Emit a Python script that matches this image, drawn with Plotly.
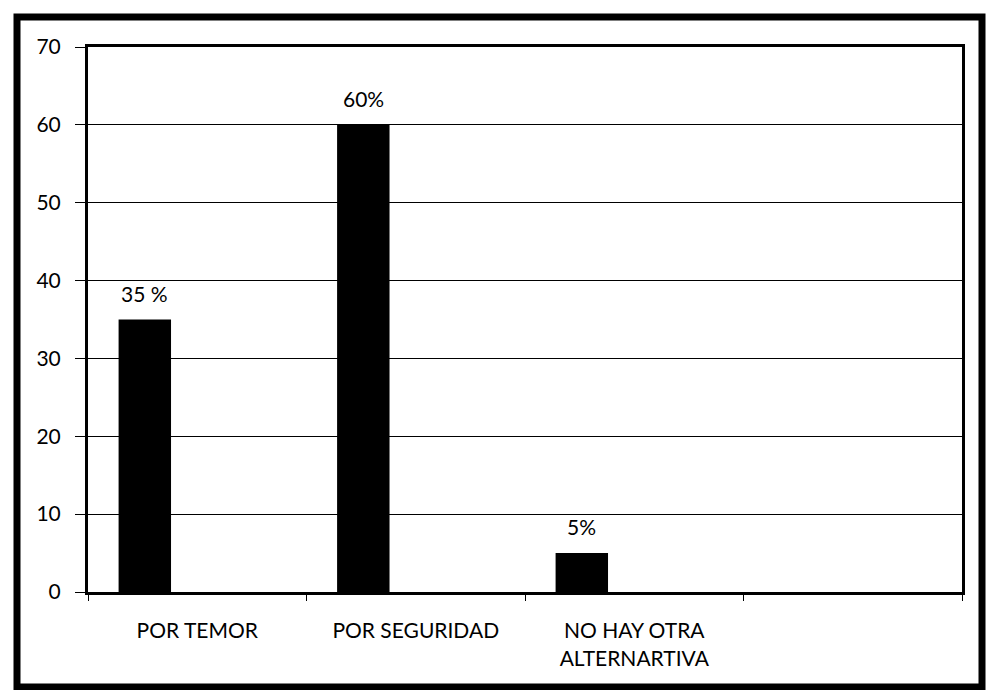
import plotly.graph_objects as go

# data
categorias = ['POR TEMOR', 'POR SEGURIDAD', 'NO HAY OTRA<br>ALTERNARTIVA', ' ']
valores = [35, 60, 5, None]
etiquetas = ['35 %', '60%', '5%', '']
y_ticks = [0, 10, 20, 30, 40, 50, 60, 70]

W, H = 986, 690
L, R, T, B = 88, 24, 47, 98
pw, ph = W - L - R, H - T - B
bar_w, bar_off = 0.24, -0.36   # bars sit left of the category centre (Excel style)


def px_to_paper(x, y):
    return (x - L) / pw, (H - B - y) / ph


fig = go.Figure()
fig.add_trace(go.Bar(x=categorias, y=valores, marker_color='black',
                     marker_line_width=0, width=bar_w, offset=bar_off,
                     showlegend=False, hoverinfo='skip'))

# value labels above bars
for i, (v, t) in enumerate(zip(valores, etiquetas)):
    if v is None:
        continue
    fig.add_annotation(x=i + bar_off + bar_w / 2, y=v, text=t, showarrow=False,
                       yanchor='bottom', yshift=12,
                       font=dict(size=21, color='black'))

# outer frame
x0, y0 = px_to_paper(17, 17)
x1, y1 = px_to_paper(982, 687)
fig.add_shape(type='rect', xref='paper', yref='paper',
              x0=x0, y0=y1, x1=x1, y1=y0,
              line=dict(color='black', width=7), layer='above')

fig.update_layout(
    width=W, height=H,
    margin=dict(l=L, r=R, t=T, b=B),
    paper_bgcolor='white', plot_bgcolor='white',
    font=dict(family='Lato, Open Sans, sans-serif', size=21, color='black'),
)
fig.update_xaxes(type='category', range=[-0.5, 3.5], showline=True, linecolor='black',
                 linewidth=3, mirror=True, ticks='outside', tickson='boundaries',
                 ticklen=6, tickcolor='black', tickwidth=1, showgrid=False,
                 ticklabelstandoff=18, tickfont=dict(size=21))
fig.update_yaxes(range=[0, 70], tickvals=y_ticks, showline=True, linecolor='black',
                 linewidth=3, mirror=True, ticks='outside', ticklen=10,
                 tickcolor='black', showgrid=True, gridcolor='black', gridwidth=1,
                 zeroline=False, ticklabelstandoff=10, tickfont=dict(size=21))

fig.write_html("out.html", config={'displayModeBar': False},
               post_script="document.body.style.margin='0';")
